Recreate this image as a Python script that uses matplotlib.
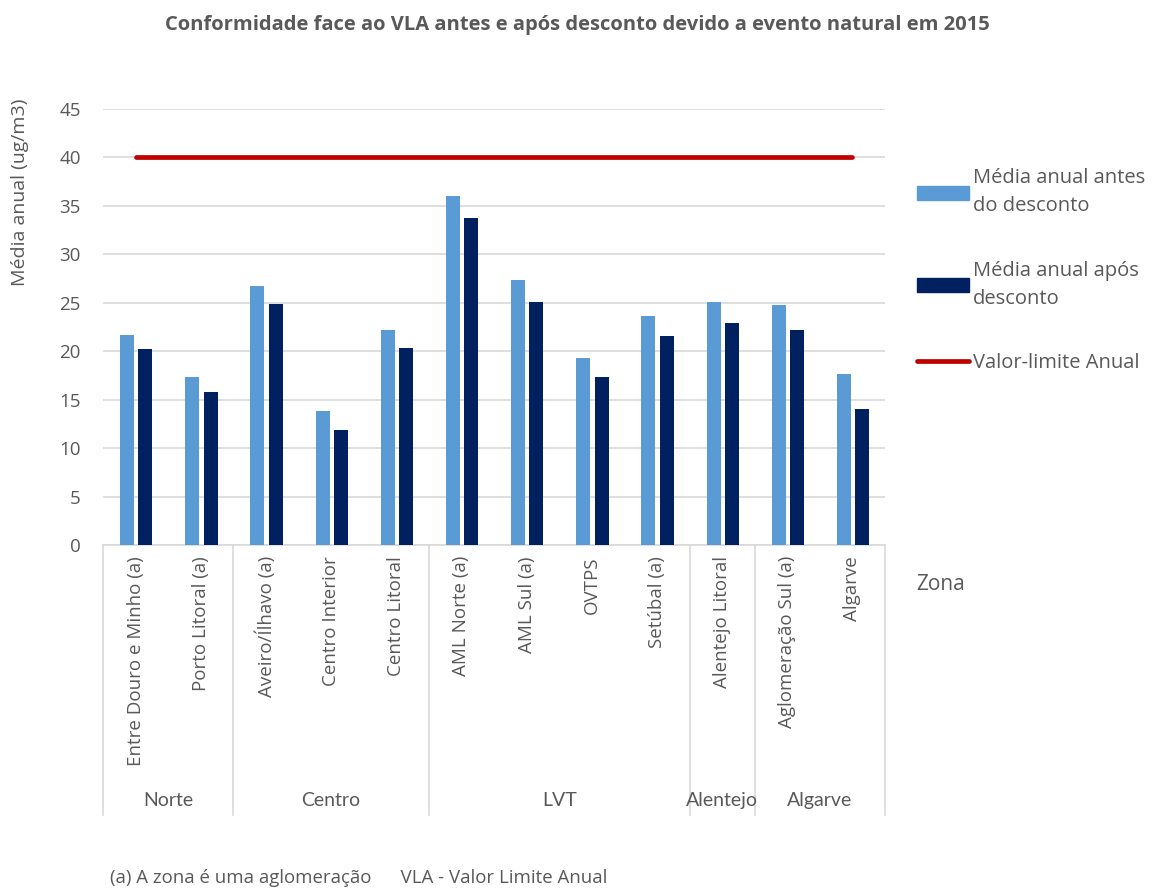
import matplotlib
matplotlib.use("Agg")
import matplotlib.pyplot as plt
import numpy as np
from matplotlib.patches import Patch
from matplotlib.lines import Line2D

zonas = ["Entre Douro e Minho (a)", "Porto Litoral (a)", "Aveiro/Ílhavo (a)", "Centro Interior",
         "Centro Litoral", "AML Norte (a)", "AML Sul (a)", "OVTPS", "Setúbal (a)",
         "Alentejo Litoral", "Aglomeração Sul (a)", "Algarve"]
antes = [21.7, 17.3, 26.7, 13.8, 22.2, 36.0, 27.3, 19.3, 23.6, 25.1, 24.8, 17.6]
apos = [20.2, 15.8, 24.9, 11.9, 20.3, 33.8, 25.1, 17.3, 21.6, 22.9, 22.2, 14.0]
vla = [40] * len(zonas)
regioes = ["Norte", "Centro", "LVT", "Alentejo", "Algarve"]
n_zonas_regiao = [2, 3, 4, 1, 2]

txt = "#595959"
plt.rcParams['font.family'] = ['Open Sans', 'DejaVu Sans']

fig = plt.figure(figsize=(11.55, 8.88), dpi=100)
ax = fig.add_axes([103/1155, 1-545/888, (885-103)/1155, (545-109)/888])

x = np.arange(len(zonas))
w = 0.215
ax.bar(x - 0.13, antes, w, color="#5b9bd5", zorder=3)
ax.bar(x + 0.15, apos, w, color="#002060", zorder=3)
ax.plot(x, vla, color="#c00000", lw=3.4, solid_capstyle="round", zorder=4)

ax.set_xlim(-0.5, len(zonas) - 0.5)
ax.set_ylim(0, 45)
ax.set_yticks(range(0, 46, 5))
ax.grid(axis="y", color="#d9d9d9", lw=1.2, zorder=0)
for s in ["top", "right", "left"]:
    ax.spines[s].set_visible(False)
ax.spines["bottom"].set_color("#d9d9d9")
ax.spines["bottom"].set_linewidth(1.2)
ax.tick_params(axis="y", length=0, labelsize=13.5, labelcolor=txt, pad=16)
ax.tick_params(axis="x", length=0, labelsize=13.5, labelcolor=txt, pad=8)
ax.set_xticks(x)
ax.set_xticklabels(zonas, rotation=90, va="top")

# separadores e nomes das regiões
trans = ax.get_xaxis_transform()
bottom = -(815 - 545) / 436
bounds = np.concatenate([[0], np.cumsum(n_zonas_regiao)]) - 0.5
for b in bounds:
    ax.add_line(Line2D([b, b], [0, bottom], transform=trans, color="#d9d9d9", lw=1.2, clip_on=False))
for i, r in enumerate(regioes):
    ax.text((bounds[i] + bounds[i+1]) / 2, -(800 - 545) / 436, r, transform=trans,
            ha="center", va="center", fontsize=14, color=txt, family=["Lato", "DejaVu Sans"])

fig.text(0.5, 1 - 25/888, "Conformidade face ao VLA antes e após desconto devido a evento natural em 2015",
         ha="center", va="center", fontsize=14.5, fontweight="bold", color=txt)
fig.text(20/1155, 1 - 192/888, "Média anual (ug/m3)", rotation=90, ha="center", va="center",
         fontsize=14, color=txt)
fig.text(916/1155, 1 - 585/888, "Zona", ha="left", va="center", fontsize=15, color=txt)
fig.text(110/1155, 1 - 878/888, "(a) A zona é uma aglomeração      VLA - Valor Limite Anual",
         ha="left", va="center", fontsize=13.4, color=txt)

handles = [Patch(color="#5b9bd5"), Patch(color="#002060"),
           Line2D([], [], color="#c00000", lw=3.4, solid_capstyle="round")]
labels = ["Média anual antes\ndo desconto", "Média anual após\ndesconto", "Valor-limite Anual"]
leg = fig.legend(handles, labels, loc="upper left", bbox_to_anchor=(899/1155, 1 - 150/888),
                 frameon=False, fontsize=14.5, labelcolor=txt, handlelength=2.6, handleheight=0.7,
                 handletextpad=0.15, labelspacing=2.2)
for t in leg.get_texts():
    t.set_linespacing(1.55)

fig.savefig("out.png", dpi=100)
